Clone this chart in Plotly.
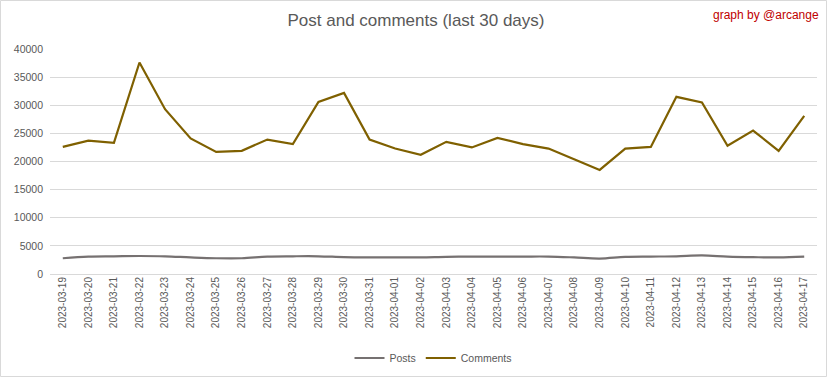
import plotly.graph_objects as go

dates = ["2023-03-19","2023-03-20","2023-03-21","2023-03-22","2023-03-23","2023-03-24","2023-03-25",
         "2023-03-26","2023-03-27","2023-03-28","2023-03-29","2023-03-30","2023-03-31","2023-04-01",
         "2023-04-02","2023-04-03","2023-04-04","2023-04-05","2023-04-06","2023-04-07","2023-04-08",
         "2023-04-09","2023-04-10","2023-04-11","2023-04-12","2023-04-13","2023-04-14","2023-04-15",
         "2023-04-16","2023-04-17"]
posts = [2800, 3100, 3150, 3200, 3150, 2950, 2800, 2800, 3100, 3150, 3150, 3000, 2950, 2950, 2950,
         3050, 3100, 3100, 3100, 3100, 2950, 2750, 3050, 3100, 3150, 3300, 3100, 3000, 2950, 3100]
comments = [22600, 23700, 23300, 37600, 29300, 24100, 21700, 21900, 23900, 23100, 30600, 32200, 23900, 22300, 21200,
            23500, 22500, 24200, 23100, 22300, 20400, 18500, 22300, 22600, 31500, 30500, 22800, 25500, 21900, 28100]
yticks = [0, 5000, 10000, 15000, 20000, 25000, 30000, 35000, 40000]
yticklabels = [str(v) for v in yticks]

FONT = "Liberation Sans, Arial, sans-serif"
W, H = 832, 378
ML, MR, MT, MB = 50, 15, 49, 104

fig = go.Figure()
fig.add_trace(go.Scatter(x=dates, y=posts, name="Posts", mode="lines",
                         line=dict(color="#767171", width=2.2, shape="spline")))
fig.add_trace(go.Scatter(x=dates, y=comments, name="Comments", mode="lines",
                         line=dict(color="#7f6000", width=2.2)))

pw = W - ML - MR
ph = H - MT - MB
fig.update_layout(
    width=W, height=H,
    margin=dict(l=ML, r=MR, t=MT, b=MB, autoexpand=False),
    paper_bgcolor="white", plot_bgcolor="white",
    font=dict(family=FONT, color="#595959", size=10),
    title=dict(text="Post and comments (last 30 days)", xref="container", x=0.5, xanchor="center",
               yref="container", y=1 - 20 / H, yanchor="middle",
               font=dict(size=17, color="#595959", family=FONT)),
    showlegend=True,
    legend=dict(orientation="h", x=0.5, xanchor="center", y=-(358 - (H - MB)) / ph, yanchor="middle",
                font=dict(size=10.5, color="#595959"), itemwidth=30, traceorder="normal"),
    xaxis=dict(type="category", tickangle=-90, showgrid=False, showline=False, ticks="",
               tickfont=dict(size=10, color="#595959"), range=[-0.5, len(dates) - 0.5],
               automargin=False),
    yaxis=dict(range=[0, 40000], tickvals=yticks, ticktext=yticklabels, showgrid=True,
               gridcolor="#d9d9d9", gridwidth=1,
               zeroline=True, zerolinecolor="#d9d9d9", zerolinewidth=1, showline=False, ticks="",
               tickfont=dict(size=10.5, color="#595959"), ticklabelstandoff=6, automargin=False),
    annotations=[dict(text="graph by @arcange", xref="paper", yref="paper",
                      x=(821 - ML) / pw, y=(H - MB - 15) / ph, xanchor="right", yanchor="middle",
                      showarrow=False, font=dict(size=12, color="#c00000", family=FONT))],
    shapes=[dict(type="rect", xref="paper", yref="paper",
                 x0=(0.5 - ML) / pw, x1=(826.5 - ML) / pw,
                 y0=-(H - 1.5 - (H - MB)) / ph, y1=(H - MB - 0.5) / ph,
                 line=dict(color="#d9d9d9", width=1), layer="below")],
)
fig.write_html("out.html", config={"displayModeBar": False},
               post_script="document.body.style.margin='0';")
